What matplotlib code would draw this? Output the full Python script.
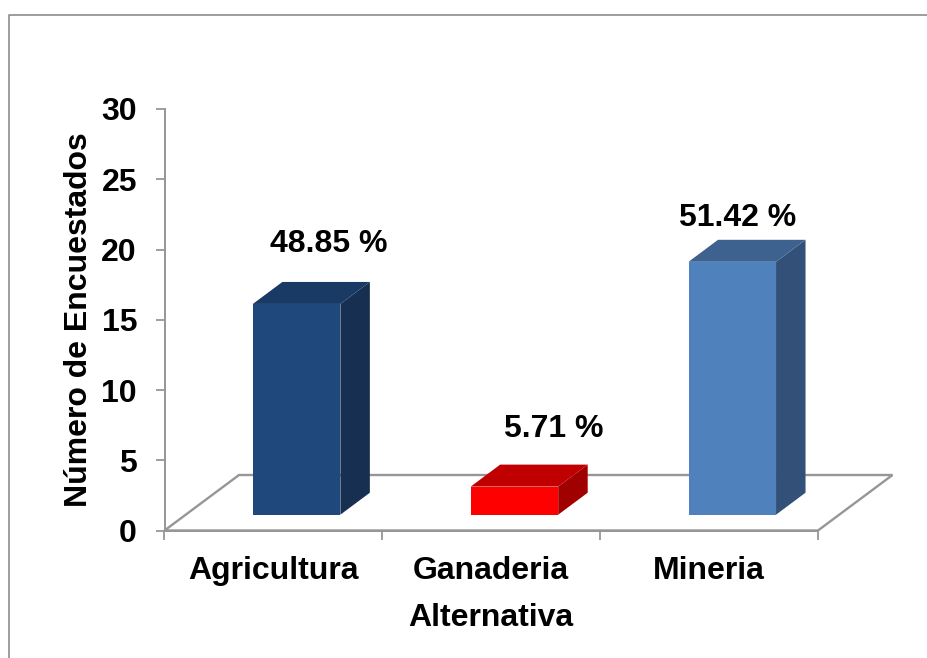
import matplotlib
matplotlib.use('Agg')
import matplotlib.pyplot as plt
from matplotlib.lines import Line2D
from matplotlib.patches import Polygon

plt.rcParams['font.family'] = ['Liberation Sans', 'DejaVu Sans']
plt.rcParams['font.weight'] = 'bold'

# Datos
categorias = ['Agricultura', 'Ganaderia', 'Mineria']
encuestados = [15, 2, 18]
porcentajes = ['48.85 %', '5.71 %', '51.42 %']
ticks_y = [0, 5, 10, 15, 20, 25, 30]

# Colores (frente, lado, tapa)
color_frente = ['#1F497D', '#FF0000', '#4F81BD']
color_lado = ['#172F50', '#A00000', '#325078']
color_tapa = ['#1A3A66', '#C00000', '#3E6290']
gris = '#969696'

W, H = 927, 658
fig = plt.figure(figsize=(W / 100, H / 100), dpi=100, facecolor='white')

# Marco exterior
fig.add_artist(Line2D([8.5 / W, 8.5 / W, 1], [0, 1 - 15 / H, 1 - 15 / H],
                      color='#8c8c8c', lw=1.2))

# Ejes en pixeles del original
izq, der, arriba, abajo = 164.5, 818, 109, 530.5
ax = fig.add_axes([izq / W, 1 - abajo / H, (der - izq) / W, (abajo - arriba) / H])
ax.set_xlim(-0.5, 2.5)
ax.set_ylim(0, 30)
ax.patch.set_alpha(0)

# Conversion de pixeles a unidades de datos
px_x = 3 / (der - izq)
px_y = 30 / (abajo - arriba)

# Suelo 3D
suelo_dx, suelo_dy = 74.5 * px_x, 55.5 * px_y
ax.add_patch(Polygon([(-0.5, 0), (2.5, 0), (2.5 + suelo_dx, suelo_dy), (-0.5 + suelo_dx, suelo_dy)],
                     closed=True, fill=False, edgecolor=gris, lw=1.7, clip_on=False, zorder=1))

# Barras 3D
ancho = 87.5 * px_x
desplaza = 23.2 * px_x
base = 15.8 * px_y
prof_x, prof_y = 29.5 * px_x, 22 * px_y

for i, v in enumerate(encuestados):
    x0 = i + desplaza - ancho / 2
    x1 = x0 + ancho
    y0 = base
    y1 = base + v
    ax.bar(i + desplaza, v, width=ancho, bottom=base, color=color_frente[i], zorder=3)
    ax.add_patch(Polygon([(x1, y0), (x1 + prof_x, y0 + prof_y), (x1 + prof_x, y1 + prof_y), (x1, y1)],
                         closed=True, facecolor=color_lado[i], edgecolor='none', zorder=3, clip_on=False))
    ax.add_patch(Polygon([(x0, y1), (x0 + prof_x, y1 + prof_y), (x1 + prof_x, y1 + prof_y), (x1, y1)],
                         closed=True, facecolor=color_tapa[i], edgecolor='none', zorder=3, clip_on=False))

# Etiquetas de porcentaje
offset_etiquetas = [(32, 60), (39, 58), (5, 44)]
for i, v in enumerate(encuestados):
    ax.annotate(porcentajes[i], xy=(i + desplaza, base + v), xytext=offset_etiquetas[i],
                textcoords='offset pixels', ha='center', va='center',
                fontsize=23, fontweight='bold', color='black', annotation_clip=False)

# Ejes
for lado in ['top', 'right']:
    ax.spines[lado].set_visible(False)
for lado in ['left', 'bottom']:
    ax.spines[lado].set_color(gris)
    ax.spines[lado].set_linewidth(1.4)

ax.set_yticks(ticks_y)
ax.set_xticks([-0.5, 0.5, 1.5, 2.5], labels=[])
ax.set_xticks([0, 1, 2], labels=categorias, minor=True)
ax.tick_params(axis='y', length=6.5, width=1.3, color=gris, labelsize=23, pad=13.3)
ax.tick_params(axis='x', which='major', length=6.5, width=1.3, color=gris)
ax.tick_params(axis='x', which='minor', length=0, labelsize=23, pad=18.5)

ax.set_xlabel('Alternativa', fontsize=23, fontweight='bold', labelpad=12)
ax.set_ylabel('Número de Encuestados', fontsize=23, fontweight='bold', labelpad=5.5)

fig.savefig('out.png', dpi=100)
